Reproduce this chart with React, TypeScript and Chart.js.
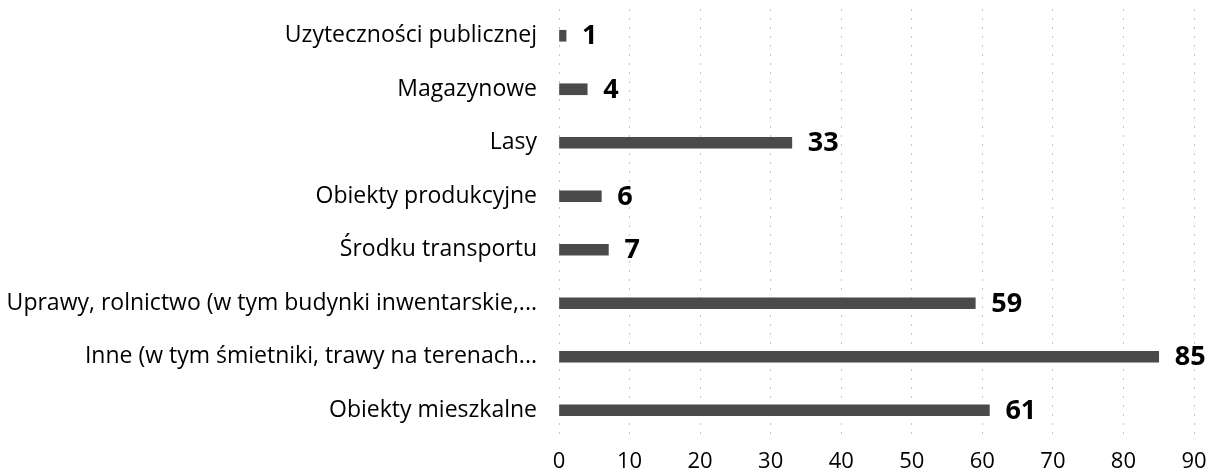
import React, { useEffect, useRef } from "react";
import { Chart, registerables } from "chart.js";

Chart.register(...registerables);

const categories: string[] = [
  "Uzyteczności publicznej",
  "Magazynowe",
  "Lasy",
  "Obiekty produkcyjne",
  "Środku transportu",
  "Uprawy, rolnictwo (w tym budynki inwentarskie,...",
  "Inne (w tym śmietniki, trawy na terenach...",
  "Obiekty mieszkalne",
];

const values: number[] = [1, 4, 33, 6, 7, 59, 85, 61];

const xMin = 0;
const xMax = 90;
const xStep = 10;

const FONT = "'Open Sans', 'Noto Sans', sans-serif";

const valueLabelPlugin = {
  id: "valueLabels",
  afterDatasetsDraw(chart: any) {
    const ctx = chart.ctx;
    const meta = chart.getDatasetMeta(0);
    ctx.save();
    ctx.font = `bold 27px ${FONT}`;
    ctx.fillStyle = "#000";
    ctx.textAlign = "left";
    ctx.textBaseline = "middle";
    meta.data.forEach((el: any, i: number) => {
      ctx.fillText(String(chart.data.datasets[0].data[i]), el.x + 16, el.y + 1);
    });
    ctx.restore();
  },
};

export default function App() {
  const ref = useRef<HTMLCanvasElement | null>(null);

  useEffect(() => {
    if (!ref.current) return;
    const chart = new Chart(ref.current, {
      type: "bar",
      data: {
        labels: categories,
        datasets: [
          {
            data: values,
            backgroundColor: "#4a4a4a",
            borderWidth: 0,
            barThickness: 11,
          },
        ],
      },
      options: {
        indexAxis: "y",
        animation: false,
        responsive: false,
        maintainAspectRatio: false,
        layout: { padding: { top: 9, right: 16, left: 0, bottom: 0 } },
        plugins: {
          legend: { display: false },
          tooltip: { enabled: false },
        },
        scales: {
          x: {
            min: xMin,
            max: xMax,
            ticks: {
              stepSize: xStep,
              color: "#000",
              padding: 12,
              font: { family: FONT, size: 22 },
            },
            grid: {
              color: "#c4c4c4",
              lineWidth: 1,
              drawTicks: false,
            },
            border: { display: false, dash: [2, 7] },
            afterFit: (s: any) => {
              s.height = 35;
              s.paddingLeft = 0;
              s.paddingRight = 0;
            },
          },
          y: {
            ticks: {
              color: "#000",
              padding: 22,
              font: { family: FONT, size: 23 },
            },
            grid: { display: false, drawTicks: false },
            border: { display: false },
            afterFit: (s: any) => {
              s.width = 559;
              s.paddingTop = 0;
              s.paddingBottom = 0;
            },
          },
        },
      },
      plugins: [valueLabelPlugin],
    });
    return () => chart.destroy();
  }, []);

  return (
    <div style={{ position: "fixed", left: 0, top: 0, width: 1210, height: 472, background: "#fff" }}>
      <canvas ref={ref} width={1210} height={472} />
    </div>
  );
}
